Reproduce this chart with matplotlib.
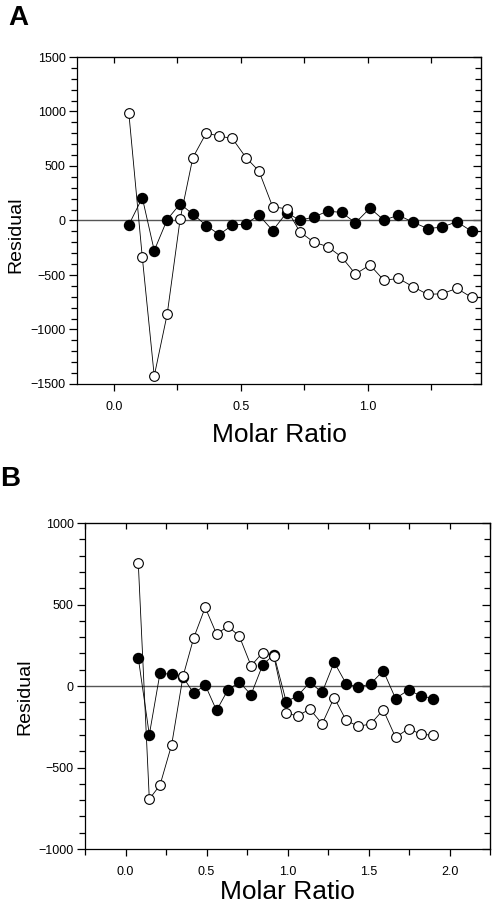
import matplotlib
matplotlib.use("Agg")
import matplotlib.pyplot as plt
from matplotlib.ticker import MultipleLocator

plt.rcParams['font.family'] = ['Liberation Sans', 'DejaVu Sans']

# Panel A data
a_x = [0.059, 0.112, 0.159, 0.210, 0.261, 0.311, 0.364, 0.415, 0.466, 0.520,
       0.571, 0.625, 0.680, 0.732, 0.787, 0.841, 0.896, 0.951, 1.008, 1.063,
       1.120, 1.177, 1.235, 1.291, 1.350, 1.408]
a_open = [985, -337, -1426, -859, 15, 577, 804, 773, 754, 577,
          454, 126, 107, -104, -199, -239, -334, -491, -408, -549,
          -531, -607, -678, -672, -623, -705]
a_filled = [-40, 209, -276, 9, 153, 58, -46, -129, -43, -31,
            50, -92, 71, 3, 31, 86, 74, -21, 113, 3,
            49, -15, -74, -61, -12, -98]

# Panel B data
b_x = [0.079, 0.147, 0.213, 0.285, 0.355, 0.421, 0.492, 0.562, 0.632, 0.702,
       0.775, 0.847, 0.916, 0.992, 1.062, 1.138, 1.214, 1.288, 1.362, 1.438,
       1.514, 1.591, 1.667, 1.747, 1.823, 1.901]
b_open = [752, -694, -608, -360, 59, 295, 482, 319, 366, 307,
          124, 205, 182, -167, -183, -142, -232, -71, -211, -248,
          -232, -146, -315, -262, -295, -303]
b_filled = [171, -299, 79, 71, 55, -45, 6, -150, -24, 24,
            -53, 130, 192, -96, -61, 22, -39, 146, 14, -8,
            14, 94, -77, -24, -61, -77]

W, H = 495, 905
fig = plt.figure(figsize=(W / 100, H / 100), dpi=100)


def panel(rect, x, y_open, y_filled, xlim, ylim):
    ax = fig.add_axes(rect)
    ax.axhline(0, color='#555555', lw=1.0, zorder=1)
    ax.plot(x, y_filled, '-o', color='black', lw=0.6, ms=7.2,
            mfc='black', mec='black', zorder=2)
    ax.plot(x, y_open, '-o', color='black', lw=0.6, ms=7,
            mfc='white', mec='black', mew=0.8, zorder=3)
    ax.set_xlim(*xlim)
    ax.set_ylim(*ylim)
    ax.xaxis.set_major_locator(MultipleLocator(0.5))
    ax.xaxis.set_minor_locator(MultipleLocator(0.25))
    ax.yaxis.set_major_locator(MultipleLocator(500))
    ax.yaxis.set_minor_locator(MultipleLocator(100))
    ax.xaxis.set_major_formatter(lambda v, p: f"{v:.1f}")
    ax.tick_params(which='both', direction='out', width=0.9, labelsize=9)
    ax.tick_params(axis='x', which='major', length=5, pad=7)
    ax.tick_params(axis='x', which='minor', length=4)
    ax.tick_params(axis='y', which='major', length=6, pad=2)
    ax.tick_params(axis='y', which='minor', length=4)
    for s in ax.spines.values():
        s.set_linewidth(0.9)

    top = ax.secondary_xaxis('top')
    top.xaxis.set_major_locator(MultipleLocator(0.5))
    top.xaxis.set_minor_locator(MultipleLocator(0.25))
    top.tick_params(which='both', direction='in', length=4, width=0.9,
                    labeltop=False)
    right = ax.secondary_yaxis('right')
    right.yaxis.set_major_locator(MultipleLocator(500))
    right.yaxis.set_minor_locator(MultipleLocator(100))
    right.tick_params(which='major', direction='in', length=6, width=0.9,
                      labelright=False)
    right.tick_params(which='minor', direction='in', length=4, width=0.9)
    return ax


ax_a = panel([77 / W, 1 - 384 / H, 404 / W, 327 / H],
             a_x, a_open, a_filled, (-0.145, 1.445), (-1500, 1500))
ax_b = panel([85 / W, 1 - 849 / H, 405 / W, 326 / H],
             b_x, b_open, b_filled, (-0.25, 2.25), (-1000, 1000))

# labels
fig.text(8 / W, 1 - 25 / H, 'A', fontsize=20, fontweight='bold', va='baseline')
fig.text(0 / W, 1 - 486 / H, 'B', fontsize=20, fontweight='bold', va='baseline')
fig.text(279 / W, 1 - 442 / H, 'Molar Ratio', fontsize=19, ha='center', va='baseline')
fig.text(287.5 / W, 1 / H, 'Molar Ratio', fontsize=19, ha='center', va='bottom')
fig.text(15.5 / W, 1 - 235 / H, 'Residual', fontsize=14, rotation=90,
         ha='center', va='center')
fig.text(24.5 / W, 1 - 697 / H, 'Residual', fontsize=14, rotation=90,
         ha='center', va='center')

fig.savefig('out.png', dpi=100)
